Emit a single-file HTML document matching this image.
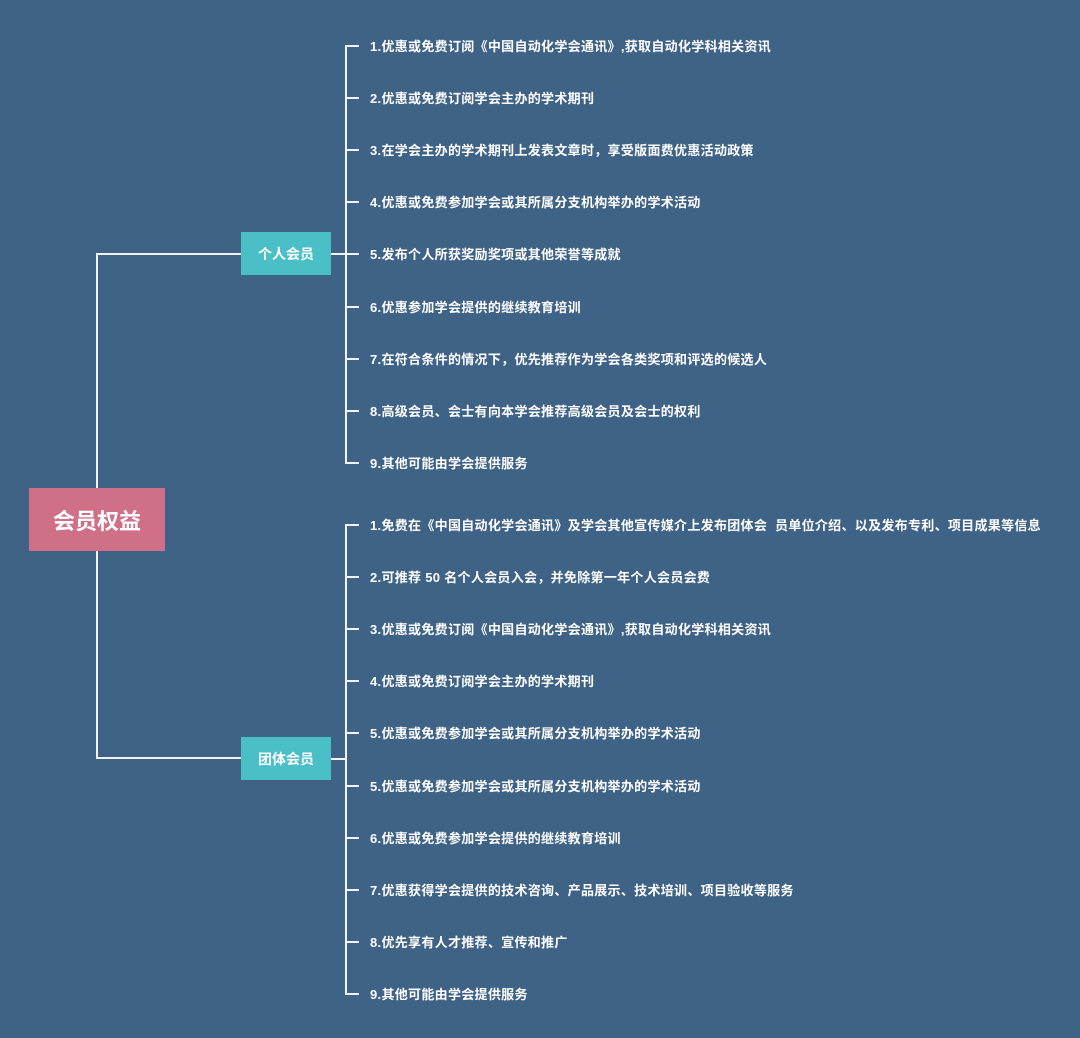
<!DOCTYPE html>
<html><head><meta charset="utf-8"><style>
body{margin:0;width:1080px;height:1038px;background:#3f6387;position:relative;overflow:hidden;font-family:"Liberation Sans","Noto Sans CJK SC",sans-serif;}
.l{position:absolute;background:#f2f4f6;}
.t{position:absolute;left:370px;color:#fff;font-size:13px;font-weight:bold;white-space:nowrap;line-height:16px;letter-spacing:0.3px;}
.box{position:absolute;color:#fff;font-weight:bold;display:flex;align-items:center;justify-content:center;}
</style></head><body>
<div class="box" style="left:29px;top:488px;width:136px;height:63px;background:#d06f88;font-size:22px;">会员权益</div>
<div class="l" style="left:96px;top:253px;width:2px;height:235px"></div>
<div class="l" style="left:96px;top:551px;width:2px;height:208px"></div>
<div class="l" style="left:96px;top:253px;width:145px;height:2px"></div>
<div class="l" style="left:96px;top:757px;width:145px;height:2px"></div>
<div class="box" style="left:241px;top:232px;width:90px;height:43px;background:#4bbfc8;font-size:14px;">个人会员</div>
<div class="box" style="left:241px;top:737px;width:90px;height:43px;background:#4bbfc8;font-size:14px;">团体会员</div>
<div class="l" style="left:331px;top:253px;width:15px;height:2px"></div>
<div class="l" style="left:331px;top:758px;width:15px;height:2px"></div>
<div class="l" style="left:345px;top:45px;width:2px;height:419px"></div>
<div class="l" style="left:345px;top:524px;width:2px;height:471px"></div>
<div id="c"></div>
<script>
var a=["1.优惠或免费订阅《中国自动化学会通讯》,获取自动化学科相关资讯","2.优惠或免费订阅学会主办的学术期刊","3.在学会主办的学术期刊上发表文章时，享受版面费优惠活动政策","4.优惠或免费参加学会或其所属分支机构举办的学术活动","5.发布个人所获奖励奖项或其他荣誉等成就","6.优惠参加学会提供的继续教育培训","7.在符合条件的情况下，优先推荐作为学会各类奖项和评选的候选人","8.高级会员、会士有向本学会推荐高级会员及会士的权利","9.其他可能由学会提供服务"];
var b=["1.免费在《中国自动化学会通讯》及学会其他宣传媒介上发布团体会&nbsp; 员单位介绍、以及发布专利、项目成果等信息","2.可推荐 50 名个人会员入会，并免除第一年个人会员会费","3.优惠或免费订阅《中国自动化学会通讯》,获取自动化学科相关资讯","4.优惠或免费订阅学会主办的学术期刊","5.优惠或免费参加学会或其所属分支机构举办的学术活动","5.优惠或免费参加学会或其所属分支机构举办的学术活动","6.优惠或免费参加学会提供的继续教育培训","7.优惠获得学会提供的技术咨询、产品展示、技术培训、项目验收等服务","8.优先享有人才推荐、宣传和推广","9.其他可能由学会提供服务"];
var h="";
a.forEach(function(s,i){var y=46+i*52.1;h+='<div class="l" style="left:345px;top:'+(y-1)+'px;width:14px;height:2px"></div><div class="t" style="top:'+(y-7)+'px">'+s+'</div>';});
b.forEach(function(s,i){var y=525+i*52.1;h+='<div class="l" style="left:345px;top:'+(y-1)+'px;width:14px;height:2px"></div><div class="t" style="top:'+(y-7)+'px">'+s+'</div>';});
document.getElementById("c").innerHTML=h;
</script>
</body></html>
